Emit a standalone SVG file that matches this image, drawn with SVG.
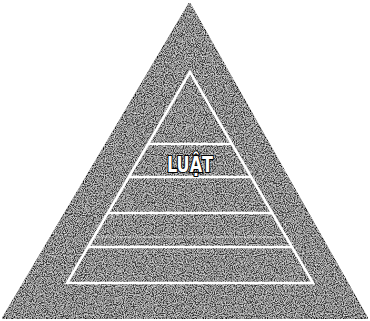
<svg xmlns="http://www.w3.org/2000/svg" width="370" height="321" viewBox="0 0 370 321">
  <defs>
    <filter id="grain" x="0" y="0" width="100%" height="100%">
      <feTurbulence type="fractalNoise" baseFrequency="0.9" numOctaves="2" seed="3" result="n"/>
      <feColorMatrix in="n" type="matrix" values="0 0 0 0 1  0 0 0 0 1  0 0 0 0 1  0 0 0 1.6 -0.55" result="w"/>
      <feComposite in="w" in2="SourceGraphic" operator="in" result="wc"/>
      <feMerge><feMergeNode in="SourceGraphic"/><feMergeNode in="wc"/></feMerge>
    </filter>
  </defs>
  <style>
    .pyr { fill: #353535; stroke: #111; stroke-width: 1.5; stroke-linejoin: miter; }
    .band { fill: none; stroke: #fff; stroke-width: 2.6; stroke-linejoin: miter; }
    .thin { stroke: #fff; stroke-width: 0.8; stroke-opacity: 0.7; }
    .lbl { font-family: "DejaVu Sans Condensed", "DejaVu Sans", sans-serif; font-weight: bold; font-size: 21px; fill: #fff; stroke: #000; stroke-width: 2.2; paint-order: stroke; }
  </style>
  <rect width="370" height="321" fill="#fff"/>
  <g id="pyramid">
    <polygon class="pyr" points="189.5,3 2.5,318.5 367.5,318.5" filter="url(#grain)"/>
  </g>
  <g id="inner-levels">
    <polygon class="band" points="190,72 67,283 313,283"/>
    <line class="band" x1="148" y1="144" x2="232" y2="144"/>
    <line class="band" x1="129" y1="177" x2="251" y2="177"/>
    <line class="band" x1="108" y1="213" x2="272" y2="213"/>
    <line class="thin" x1="94" y1="237" x2="286" y2="237"/>
    <line class="band" x1="88" y1="247" x2="292" y2="247"/>
  </g>
  <g id="label-luat">
    <text class="lbl" x="190" y="171.5" text-anchor="middle" textLength="46" lengthAdjust="spacingAndGlyphs">LUẬT</text>
  </g>
</svg>
